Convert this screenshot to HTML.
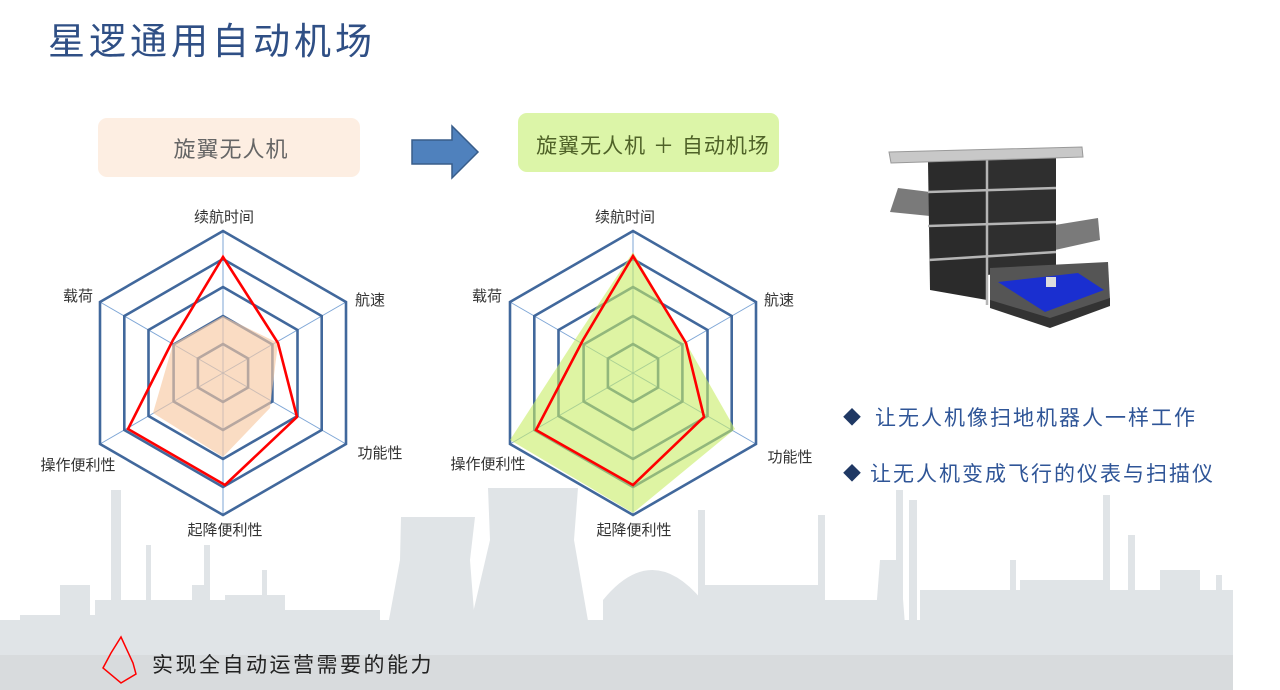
<!DOCTYPE html>
<html><head><meta charset="utf-8">
<style>
html,body{margin:0;padding:0;background:#fff;}
body{width:1280px;height:690px;overflow:hidden;position:relative;font-family:"Liberation Sans","Noto Sans CJK SC",sans-serif;}
svg{position:absolute;left:0;top:0;}
</style></head><body>
<svg width="1280" height="690" viewBox="0 0 1280 690" xmlns="http://www.w3.org/2000/svg" font-family="Liberation Sans, Noto Sans CJK SC, sans-serif">
<defs>
<g id="grid">
 <g stroke="#7ea6d6" stroke-width="1">
  <line x1="0" y1="0" x2="0" y2="-142"/><line x1="0" y1="0" x2="123" y2="-71"/><line x1="0" y1="0" x2="123" y2="71"/>
  <line x1="0" y1="0" x2="0" y2="142"/><line x1="0" y1="0" x2="-123" y2="71"/><line x1="0" y1="0" x2="-123" y2="-71"/>
 </g>
 <g fill="none" stroke="#41689c" stroke-width="2.6">
  <polygon points="0,-142 123,-71 123,71 0,142 -123,71 -123,-71"/>
  <polygon points="0,-114 98.7,-57 98.7,57 0,114 -98.7,57 -98.7,-57"/>
  <polygon points="0,-86 74.5,-43 74.5,43 0,86 -74.5,43 -74.5,-43"/>
  <polygon points="0,-57 49.4,-28.5 49.4,28.5 0,57 -49.4,28.5 -49.4,-28.5"/>
  <polygon points="0,-29 25.1,-14.5 25.1,14.5 0,29 -25.1,14.5 -25.1,-14.5"/>
 </g>
</g>
</defs>

<!-- skyline -->
<g fill="#e0e4e7">
 <rect x="111" y="490" width="10" height="200"/>
 <rect x="146" y="545" width="5" height="145"/>
 <rect x="204" y="545" width="6" height="145"/>
 <rect x="262" y="570" width="5" height="120"/>
 <rect x="192" y="585" width="12" height="105"/>
 <polygon points="401,517 475,517 470,560 480,690 376,690 400,560"/>
 <polygon points="488,488 578,488 574,540 600,690 455,690 490,540"/>
 <path d="M603,600 Q652,540 702,600 L702,690 L603,690 Z"/>
 <rect x="698" y="510" width="7" height="180"/>
 <rect x="818" y="515" width="7" height="175"/>
 <rect x="896" y="490" width="7" height="200"/>
 <rect x="909" y="500" width="8" height="190"/>
 <polygon points="880,560 900,560 910,690 870,690"/>
 <rect x="1103" y="495" width="7" height="195"/>
 <rect x="1128" y="535" width="7" height="155"/>
 <rect x="1010" y="560" width="6" height="130"/>
 <rect x="1216" y="575" width="6" height="115"/>
 <rect x="0" y="620" width="1233" height="70"/>
 <rect x="20" y="615" width="90" height="10"/>
 <rect x="60" y="585" width="30" height="40"/>
 <rect x="95" y="600" width="130" height="25"/>
 <rect x="225" y="595" width="60" height="30"/>
 <rect x="280" y="610" width="100" height="15"/>
 <rect x="700" y="585" width="120" height="40"/>
 <rect x="810" y="600" width="90" height="25"/>
 <rect x="920" y="590" width="100" height="35"/>
 <rect x="1020" y="580" width="90" height="45"/>
 <rect x="1110" y="590" width="123" height="35"/>
 <rect x="1160" y="570" width="40" height="55"/>
</g>
<rect x="0" y="655" width="1233" height="35" fill="#d8dbdd"/>

<!-- title -->
<text x="48" y="54" font-size="37" letter-spacing="4" fill="#2f4f85">星逻通用自动机场</text>

<!-- box 1 -->
<rect x="98" y="118" width="262" height="59" rx="9" fill="#fdeee2"/>
<text x="231" y="157" font-size="22" letter-spacing="1" fill="#666" text-anchor="middle">旋翼无人机</text>
<!-- arrow -->
<polygon points="412,140 452,140 452,126 478,152 452,178 452,164 412,164" fill="#4f81bd" stroke="#385d8a" stroke-width="1.5"/>
<!-- box 2 -->
<rect x="518" y="113" width="261" height="59" rx="9" fill="#dcf5a8"/>
<text x="653" y="153" font-size="21" letter-spacing="1" fill="#4f6228" text-anchor="middle">旋翼无人机 ＋ 自动机场</text>

<!-- chart 1 -->
<g transform="translate(223,373)">
 <use href="#grid"/>
 <polygon points="0,-57 55,-30 47,35 0,84 -70,40 -50,-29" fill="#f7c9a3" fill-opacity="0.65"/>
 <polygon points="0,-116 55,-30 74,44 2,112 -95,56 -50,-33" fill="none" stroke="#ff0000" stroke-width="2.6"/>
</g>
<g font-size="15" fill="#333" text-anchor="middle">
 <text x="224" y="222">续航时间</text>
 <text x="78" y="301">载荷</text>
 <text x="370" y="305">航速</text>
 <text x="380" y="458">功能性</text>
 <text x="78" y="470">操作便利性</text>
 <text x="225" y="535">起降便利性</text>
</g>

<!-- chart 2 -->
<g transform="translate(633,373)">
 <use href="#grid"/>
 <polygon points="0,-121 53,-30 102,56 0,140 -123,67 -55,-38" fill="#c8ec66" fill-opacity="0.6"/>
 <polygon points="0,-117 53,-30 71,44 0,112 -97,57 -50,-33" fill="none" stroke="#ff0000" stroke-width="2.6"/>
</g>
<g font-size="15" fill="#333" text-anchor="middle">
 <text x="625" y="222">续航时间</text>
 <text x="487" y="301">载荷</text>
 <text x="779" y="305">航速</text>
 <text x="790" y="462">功能性</text>
 <text x="488" y="469">操作便利性</text>
 <text x="634" y="535">起降便利性</text>
</g>

<!-- machine -->
<polygon points="898,188 930,192 930,216 890,212" fill="#7a7a7a"/>
<polygon points="1055,225 1098,218 1100,240 1055,250" fill="#7a7a7a"/>
<polygon points="928,162 987,160 987,300 930,290" fill="#2b2b2b"/>
<polygon points="987,160 1056,156 1056,268 987,275" fill="#2f2f2f"/>
<g stroke="#b5b5b5" stroke-width="2.5">
 <line x1="928" y1="192" x2="1056" y2="188"/>
 <line x1="928" y1="226" x2="1056" y2="222"/>
 <line x1="929" y1="260" x2="1056" y2="252"/>
 <line x1="987" y1="158" x2="987" y2="305"/>
</g>
<polygon points="889,152 1082,147 1083,157 891,163" fill="#c8c8c8" stroke="#999" stroke-width="1"/>
<polygon points="990,268 1108,262 1110,300 1050,325 990,306" fill="#555"/>
<polygon points="998,282 1078,273 1104,290 1045,312" fill="#1a2fd0"/>
<polygon points="990,300 1050,318 1110,298 1110,306 1050,328 990,308" fill="#333"/>
<rect x="1046" y="277" width="10" height="10" fill="#ddd"/>

<!-- bullets -->
<text x="843" y="424" font-size="18" fill="#1f3864">◆</text>
<text x="875" y="425" font-size="21" letter-spacing="2" fill="#2f5597">让无人机像扫地机器人一样工作</text>
<text x="843" y="480" font-size="18" fill="#1f3864">◆</text>
<text x="870" y="481" font-size="21" letter-spacing="2" fill="#2f5597">让无人机变成飞行的仪表与扫描仪</text>

<!-- legend -->
<polygon points="121,637 133,663 136,674 121,683 103,668 111,653" fill="none" stroke="#ff0000" stroke-width="1.5"/>
<text x="152" y="672" font-size="21" letter-spacing="2.5" fill="#222">实现全自动运营需要的能力</text>
</svg>
</body></html>
